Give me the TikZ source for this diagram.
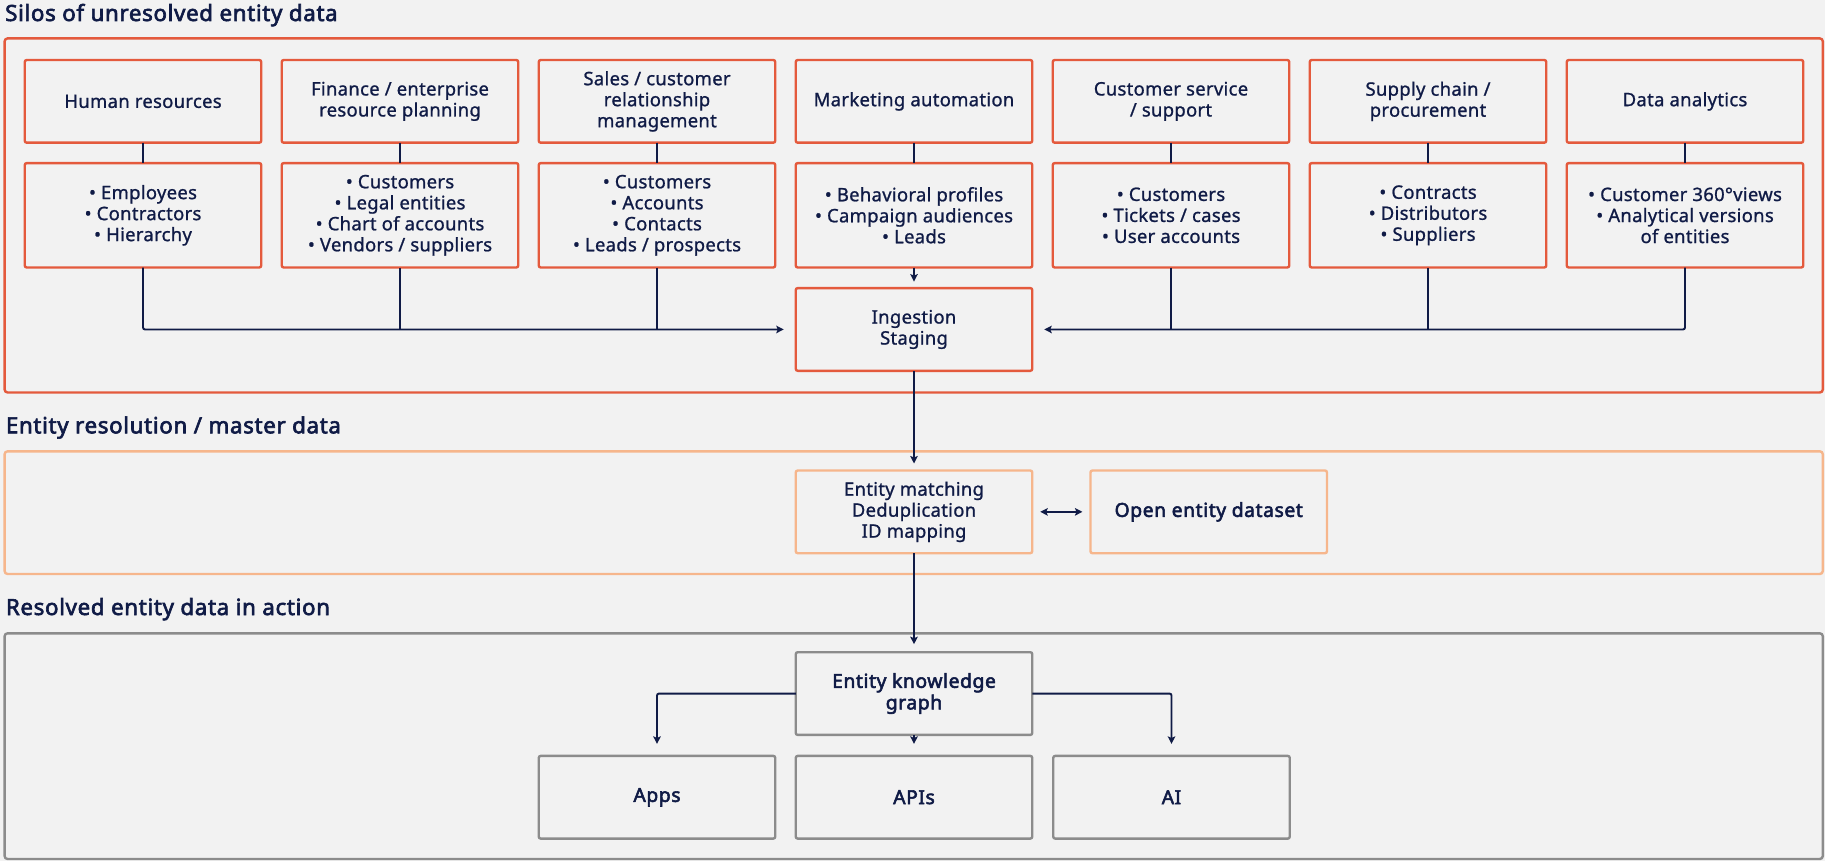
\documentclass[tikz,border=0pt]{standalone}
\usepackage{fontspec}
\setmainfont{Noto Sans}[BoldFont={Noto Sans},BoldFeatures={FakeBold=2.8,LetterSpace=3}]
\newfontfamily\midfont{Noto Sans}[FakeBold=1.0,LetterSpace=1.5]
\usepackage{tikz}
\usetikzlibrary{arrows.meta,positioning,calc}
\definecolor{navy}{HTML}{101B46}
\definecolor{silored}{HTML}{E45A3D}
\definecolor{peach}{HTML}{F6B68C}
\definecolor{frgray}{HTML}{8C8C8C}
\definecolor{bgc}{HTML}{F2F2F2}
\tikzset{
	ent diagram/.style={
		x=1pt, y=-1pt,
		text=navy,
		node distance=20.4pt and 20.5pt,
		>={Stealth[length=7.5pt,width=7.5pt,inset=1.5pt]},
		wire/.style={draw=navy,line width=1.9pt,rounded corners=2pt},
		ar/.style={wire,->},
		},
	box/.style={draw=#1,fill=bgc,line width=2.4pt,rounded corners=2pt,
		minimum width=236.5pt,minimum height=82.7pt,inner sep=2pt,outer sep=0pt,
		align=center,font=\fontsize{18.5}{21}\midfont},
	box/.default=silored,
	listbox/.style={box,minimum height=104.4pt},
	strong/.style={font=\fontsize{19.3}{21.5}\selectfont\bfseries},
	frame/.style={draw=#1,line width=2.4pt,rounded corners=3pt,anchor=north west,
		minimum width=1818.2pt,inner sep=0pt,outer sep=0pt},
	sectitle/.style={anchor=base west,inner sep=0pt,font=\fontsize{22.3}{25}\selectfont\bfseries}
}

\begin{document}
\begin{tikzpicture}[ent diagram]
	\fill[bgc] (0,0) rectangle (1825,861);
	\useasboundingbox (0,0) rectangle (1825,861);
	% section frames and titles
	\node[frame=silored, minimum height=354.1pt] (silos) at (4.6,38.4) {};
	\node[frame=peach, minimum height=122.7pt] (resol) at (4.6,451.3) {};
	\node[frame=frgray, minimum height=225.7pt] (action) at (4.6,633.3) {};
	\node[sectitle] (silosT) at (5,21) {Silos of unresolved entity data};
	\node[sectitle] (resolT) at (5.7,433.3) {Entity resolution / master data};
	\node[sectitle] (actionT) at (5.7,615) {Resolved entity data in action};
	% source systems
	\node[box] (hr) at (143,101.35) {Human resources};
	\node[box, right=of hr] (fin) {Finance / enterprise\\resource planning};
	\node[box, right=of fin] (sales) {Sales / customer\\relationship\\management};
	\node[box, right=of sales] (mkt) {Marketing automation};
	\node[box, right=of mkt] (cs) {Customer service\\/ support};
	\node[box, right=of cs] (sc) {Supply chain /\\procurement};
	\node[box, right=of sc] (da) {Data analytics};
	\node[listbox, below=of hr] (hrB) {• Employees\\• Contractors\\• Hierarchy};
	\node[listbox, below=of fin] (finB) {• Customers\\• Legal entities\\• Chart of accounts\\• Vendors / suppliers};
	\node[listbox, below=of sales] (salesB) {• Customers\\• Accounts\\• Contacts\\• Leads / prospects};
	\node[listbox, below=of mkt] (mktB) {• Behavioral profiles\\• Campaign audiences\\• Leads};
	\node[listbox, below=of cs] (csB) {• Customers\\• Tickets / cases\\• User accounts};
	\node[listbox, below=of sc] (scB) {• Contracts\\• Distributors\\• Suppliers};
	\node[listbox, below=of da] (daB) {• Customer 360°views\\• Analytical versions\\of entities};
	\node[box, below=20.6pt of mktB] (ing) {Ingestion\\Staging};
	% resolution
	\node[box=peach, below=99.7pt of ing] (match) {Entity matching\\Deduplication\\ID mapping};
	\node[box=peach, strong, right=58.2pt of match] (open) {Open entity dataset};
	% in action
	\node[box=frgray, strong, below=99pt of match] (kg) {Entity knowledge\\graph};
	\node[box=frgray, strong, below=21pt of kg] (apis) {APIs};
	\node[box=frgray, strong, left=20.5pt of apis] (apps) {Apps};
	\node[box=frgray, strong, right=21pt of apis] (ai) {AI};
	% connectors
	\foreach \s in {hr,fin,sales,mkt,cs,sc,da}
		\draw[wire] (\s) -- (\s B);
	\draw[ar, shorten >=12pt] (hrB.south) |- (ing.west);
	\draw[wire] (finB.south) -- (finB.south |- ing.west);
	\draw[wire] (salesB.south) -- (salesB.south |- ing.west);
	\draw[ar, shorten >=12pt] (daB.south) |- (ing.east);
	\draw[wire] (csB.south) -- (csB.south |- ing.east);
	\draw[wire] (scB.south) -- (scB.south |- ing.east);
	\draw[ar, shorten >=6.5pt] (mktB) -- (ing);
	\draw[ar, shorten >=7pt] (ing) -- (match);
	\draw[ar, <->, shorten >=8pt, shorten <=8pt] (match) -- (open);
	\draw[ar, shorten >=8pt] (match) -- (kg);
	\draw[ar, shorten >=12pt] (kg) -- (apis);
	\draw[ar, shorten >=12pt] (kg.west) -| (apps.north);
	\draw[ar, shorten >=12pt] (kg.east) -| (ai.north);
\end{tikzpicture}
\end{document}
